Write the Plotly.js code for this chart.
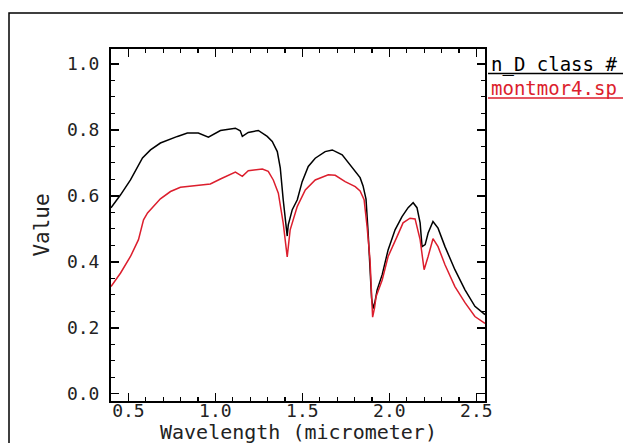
<!DOCTYPE html>
<html>
<head>
<meta charset="utf-8">
<script src="https://cdn.plot.ly/plotly-3.0.1.min.js"></script>
<style>html,body{margin:0;padding:0;background:#fff;}</style>
</head>
<body>
<div id="chart" style="width:623px;height:443px;"></div>
<script>
// Series names (legend labels)
var seriesNames = ["n_D class #", "montmor4.sp"];
var seriesColors = ["#000000", "#dc1e2d"];

// Black spectrum
var blackX = [0.400,0.455,0.512,0.581,0.627,0.684,0.782,0.839,0.902,0.960,1.029,1.103,1.115,1.143,1.155,1.189,1.247,1.298,1.327,1.356,1.373,1.390,1.413,1.419,1.442,1.471,1.499,1.534,1.574,1.631,1.672,1.729,1.793,1.832,1.849,1.866,1.878,1.889,1.898,1.907,1.918,1.930,1.959,1.993,2.033,2.073,2.108,2.137,2.159,2.177,2.188,2.206,2.223,2.251,2.280,2.320,2.377,2.435,2.492,2.538,2.550];
var blackY = [0.564,0.603,0.648,0.715,0.739,0.760,0.780,0.790,0.790,0.778,0.798,0.803,0.805,0.797,0.780,0.792,0.798,0.780,0.765,0.734,0.685,0.588,0.478,0.512,0.558,0.588,0.643,0.689,0.714,0.734,0.739,0.724,0.680,0.655,0.630,0.590,0.490,0.380,0.290,0.258,0.280,0.315,0.361,0.436,0.497,0.537,0.564,0.579,0.564,0.518,0.446,0.452,0.487,0.522,0.502,0.446,0.376,0.315,0.265,0.245,0.240];

// Red spectrum (montmor4.sp)
var redX = [0.400,0.455,0.512,0.558,0.587,0.610,0.684,0.742,0.799,0.874,0.914,0.971,1.029,1.086,1.115,1.155,1.189,1.270,1.304,1.333,1.362,1.390,1.413,1.430,1.471,1.517,1.574,1.649,1.689,1.746,1.804,1.832,1.855,1.872,1.889,1.898,1.904,1.915,1.924,1.959,1.993,2.045,2.079,2.119,2.148,2.177,2.200,2.223,2.251,2.280,2.320,2.377,2.435,2.492,2.538,2.550];
var redY = [0.325,0.366,0.416,0.467,0.527,0.548,0.591,0.613,0.626,0.630,0.633,0.636,0.651,0.664,0.672,0.659,0.676,0.681,0.674,0.648,0.608,0.517,0.415,0.497,0.568,0.618,0.648,0.664,0.662,0.643,0.628,0.615,0.588,0.507,0.406,0.300,0.232,0.260,0.295,0.345,0.416,0.477,0.518,0.532,0.530,0.467,0.376,0.416,0.470,0.446,0.391,0.325,0.276,0.234,0.216,0.213];

var xTitle = "Wavelength (micrometer)";
var yTitle = "Value";

var W = 623, H = 443;
var M = {l:111, r:138, t:49, b:42};
var pw = W - M.l - M.r, ph = H - M.t - M.b;
function px2x(px){ return (px - M.l) / pw; }
function py2y(py){ return (H - M.b - py) / ph; }

var FONT = "DejaVu Sans Mono, monospace";

var traces = [
  {x: blackX, y: blackY, type: "scatter", mode: "lines", name: seriesNames[0],
   line: {color: seriesColors[0], width: 1.5}, showlegend: false},
  {x: redX, y: redY, type: "scatter", mode: "lines", name: seriesNames[1],
   line: {color: seriesColors[1], width: 1.5}, showlegend: false}
];

var axisCommon = {
  ticks: "inside", ticklen: 8, tickwidth: 1.5, tickcolor: "#000",
  showline: true, linecolor: "#000", linewidth: 2, mirror: "allticks",
  showgrid: false, zeroline: false, tickformat: ".1f",
  tickfont: {family: FONT, size: 18, color: "#222"}
};

var layout = {
  width: W, height: H,
  margin: M,
  paper_bgcolor: "#fff", plot_bgcolor: "#fff",
  xaxis: Object.assign({}, axisCommon, {
    range: [0.4, 2.55], tickmode: "linear", tick0: 0.5, dtick: 0.5,
    minor: {tickmode: "linear", tick0: 0.5, dtick: 0.1, ticks: "inside", ticklen: 4, tickwidth: 1.2, tickcolor: "#000"},
    ticklabelstandoff: -8
  }),
  yaxis: Object.assign({}, axisCommon, {
    range: [-0.022, 1.045], tickmode: "linear", tick0: 0, dtick: 0.2,
    minor: {tickmode: "linear", tick0: 0, dtick: 0.05, ticks: "inside", ticklen: 4, tickwidth: 1.2, tickcolor: "#000"},
    ticklabelstandoff: 6,
    title: {text: yTitle, font: {family: FONT, size: 21, color: "#222"}, standoff: 12}
  }),
  shapes: [
    {type: "rect", xref: "paper", yref: "paper", x0: px2x(9), x1: px2x(640), y0: py2y(460), y1: py2y(13),
     line: {color: "#000", width: 1.5}, fillcolor: "rgba(0,0,0,0)", layer: "above"},
    {type: "line", xref: "paper", yref: "paper", x0: px2x(488), x1: px2x(640), y0: py2y(73.5), y1: py2y(73.5),
     line: {color: seriesColors[0], width: 1.5}},
    {type: "line", xref: "paper", yref: "paper", x0: px2x(488), x1: px2x(640), y0: py2y(98), y1: py2y(98),
     line: {color: seriesColors[1], width: 1.5}}
  ],
  annotations: [
    {text: xTitle, xref: "paper", yref: "paper", x: 0.5, y: py2y(418), xanchor: "center", yanchor: "top",
     showarrow: false, font: {family: FONT, size: 20, color: "#222"}},
    {text: seriesNames[0], xref: "paper", yref: "paper", x: px2x(489), y: py2y(65), xanchor: "left", yanchor: "middle",
     showarrow: false, font: {family: FONT, size: 19, color: seriesColors[0]}},
    {text: seriesNames[1], xref: "paper", yref: "paper", x: px2x(489), y: py2y(88), xanchor: "left", yanchor: "middle",
     showarrow: false, font: {family: FONT, size: 19, color: seriesColors[1]}}
  ]
};

Plotly.newPlot("chart", traces, layout, {displayModeBar: false, staticPlot: true});
</script>
</body>
</html>
